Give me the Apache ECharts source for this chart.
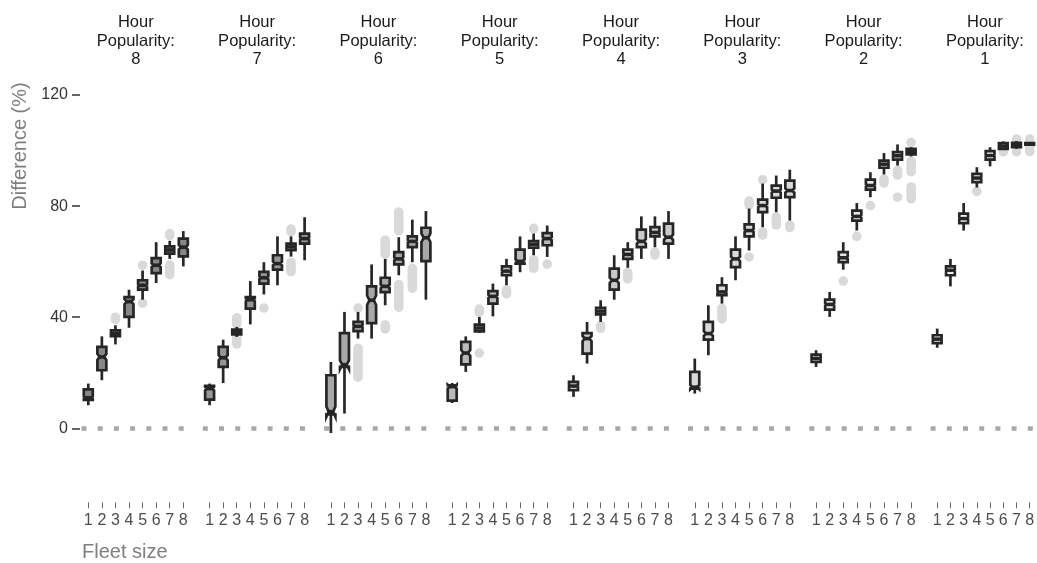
<!DOCTYPE html>
<html>
<head>
<meta charset="utf-8">
<script src="https://cdn.jsdelivr.net/npm/echarts@6/dist/echarts.min.js"></script>
<style>
  html, body { margin: 0; padding: 0; background: #ffffff; }
  #chart { width: 1037px; height: 563px; }
</style>
</head>
<body>
<div id="chart"></div>
<script>
// Fleet sizes on each panel's x axis, one panel per hour-popularity level
const fleetSizes = ['1', '2', '3', '4', '5', '6', '7', '8'];
const hourPopularity = ['8', '7', '6', '5', '4', '3', '2', '1'];
const yTickValues = [0, 40, 80, 120];

// Box statistics per fleet size: [lower whisker, Q1, median, Q3, upper whisker]
const boxesHP8 = [
  [8.3, 10.2, 11.0, 14.0, 16.1],
  [17.3, 20.9, 25.7, 29.3, 33.1],
  [30.2, 33.2, 34.2, 35.3, 37.1],
  [36.2, 40.1, 45.6, 47.2, 49.9],
  [46.3, 49.9, 51.5, 53.3, 56.8],
  [52.3, 55.9, 58.7, 61.3, 67.0],
  [61.0, 62.9, 64.2, 65.5, 67.5],
  [58.3, 61.9, 65.2, 68.3, 71.0]
];
const boxesHP7 = [
  [8.3, 10.3, 14.3, 15.3, 16.1],
  [16.3, 22.1, 25.4, 29.3, 31.9],
  [32.9, 33.8, 34.6, 35.5, 36.5],
  [37.4, 43.1, 46.3, 47.2, 53.0],
  [48.2, 52.1, 54.2, 56.3, 59.8],
  [51.5, 57.1, 59.3, 62.3, 69.1],
  [61.8, 64.1, 65.3, 66.5, 69.1],
  [60.5, 66.5, 68.3, 70.1, 76.0]
];
const boxesHP6 = [
  [-1.7, 5.0, 6.0, 19.1, 23.9],
  [5.3, 22.1, 22.9, 34.3, 41.9],
  [32.3, 35.0, 36.7, 38.3, 41.9],
  [32.3, 37.9, 46.1, 51.1, 59.0],
  [44.3, 49.0, 51.1, 54.2, 61.0],
  [55.1, 59.0, 61.0, 63.4, 68.8],
  [59.8, 65.2, 67.3, 69.1, 75.1],
  [46.3, 60.2, 68.6, 72.2, 78.2]
];
const boxesHP5 = [
  [9.1, 10.0, 15.0, 15.5, 16.3],
  [20.3, 23.0, 27.1, 31.1, 33.1],
  [34.3, 34.9, 36.1, 37.3, 40.1],
  [40.3, 44.9, 47.5, 49.4, 52.1],
  [51.5, 55.1, 56.6, 58.3, 61.0],
  [56.2, 59.3, 60.1, 64.3, 69.1],
  [62.3, 65.0, 66.2, 67.4, 70.1],
  [61.7, 65.9, 68.3, 70.3, 73.0]
];
const boxesHP4 = [
  [11.3, 13.7, 15.2, 16.7, 19.1],
  [23.3, 26.9, 32.3, 34.3, 38.3],
  [38.3, 41.0, 42.2, 43.4, 46.1],
  [46.3, 49.9, 53.3, 57.5, 62.3],
  [57.8, 61.0, 62.6, 64.3, 67.0],
  [61.0, 65.2, 67.3, 71.5, 76.3],
  [65.2, 69.1, 70.5, 72.4, 76.3],
  [61.0, 66.5, 68.8, 73.7, 78.2]
];
const boxesHP3 = [
  [12.5, 14.3, 14.8, 20.3, 25.1],
  [26.3, 31.9, 34.1, 38.3, 44.3],
  [44.9, 47.9, 49.1, 51.5, 54.4],
  [53.3, 58.0, 61.0, 64.3, 69.1],
  [64.0, 69.1, 71.2, 73.4, 79.1],
  [72.4, 77.8, 80.2, 82.3, 88.1],
  [77.8, 83.0, 85.4, 87.4, 91.0],
  [74.8, 83.2, 85.6, 89.2, 93.1]
];
const boxesHP2 = [
  [22.1, 23.9, 25.2, 26.5, 28.1],
  [40.1, 42.7, 44.6, 46.3, 49.1],
  [57.1, 59.8, 61.4, 63.4, 67.0],
  [71.2, 74.8, 76.3, 78.4, 81.1],
  [83.2, 85.9, 87.4, 89.5, 92.2],
  [91.4, 93.8, 95.1, 96.4, 99.1],
  [94.6, 96.7, 98.1, 99.4, 102.2],
  [97.9, 98.6, 99.6, 100.6, 101.2]
];
const boxesHP1 = [
  [29.0, 30.7, 32.1, 33.5, 35.9],
  [51.1, 55.1, 56.9, 58.3, 61.0],
  [71.2, 73.9, 75.5, 77.3, 81.1],
  [86.7, 88.6, 90.1, 91.6, 94.0],
  [94.3, 96.7, 98.2, 99.8, 101.2],
  [100.3, 100.6, 101.6, 102.7, 103.3],
  [100.6, 101.2, 102.0, 102.8, 103.4],
  [101.9, 102.1, 102.4, 102.7, 102.9]
];

// Outlying runs: [fleet size, lowest outlier, highest outlier] for each stacked run of points
const outliersHP8 = [
  [3, 39.2, 40.0], [5, 58.7, 58.7], [5, 45.1, 45.1],
  [7, 69.4, 70.1], [7, 55.3, 58.8]
];
const outliersHP7 = [
  [3, 37.5, 39.8], [3, 30.4, 32.5], [5, 43.3, 43.3],
  [7, 70.8, 71.7], [7, 56.4, 59.7]
];
const outliersHP6 = [
  [3, 43.3, 43.3], [3, 18.4, 28.8], [5, 62.7, 67.7], [5, 35.8, 37.2],
  [6, 71.1, 77.9], [6, 43.6, 51.8], [7, 50.4, 57.6]
];
const outliersHP5 = [
  [3, 41.8, 42.9], [3, 27.1, 27.1], [5, 48.4, 49.8],
  [7, 71.8, 72.0], [7, 57.6, 60.6], [8, 59.1, 59.1]
];
const outliersHP4 = [
  [3, 36.0, 37.0], [5, 53.8, 56.1], [7, 62.4, 63.5]
];
const outliersHP3 = [
  [3, 39.4, 43.2], [5, 80.4, 81.8], [5, 61.7, 61.7], [6, 89.5, 89.5],
  [6, 69.6, 70.7], [7, 73.2, 76.1], [8, 72.3, 73.1]
];
const outliersHP2 = [
  [3, 53.0, 53.0], [4, 69.1, 69.1], [5, 80.2, 80.2], [6, 88.3, 89.7],
  [7, 91.2, 92.9], [7, 83.2, 83.2], [8, 102.9, 102.9], [8, 92.4, 96.2], [8, 82.6, 86.9]
];
const outliersHP1 = [
  [4, 85.3, 85.3], [6, 99.5, 99.5], [7, 104.1, 104.1], [7, 99.6, 99.6], [8, 99.6, 104.1]
];

// Simulation runs behind each box (sets the notch half-width 1.58 * IQR / sqrt(n))
const runsPerBox = 150;

const panelBoxes = [boxesHP8, boxesHP7, boxesHP6, boxesHP5, boxesHP4, boxesHP3, boxesHP2, boxesHP1];
const panelOutliers = [outliersHP8, outliersHP7, outliersHP6, outliersHP5, outliersHP4, outliersHP3, outliersHP2, outliersHP1];
const panelFills = ['#878787', '#969696', '#a8a8a8', '#bababa', '#cacaca', '#d9d9d9', '#e8e8e8', '#f5f5f5'];

// Layout
const FONT = '"Liberation Sans", Arial, Helvetica, sans-serif';
const Y_MIN = -25, Y_MAX = 130;
const PX_PER_UNIT = 2.7775;
const ZERO_Y = 428.3;
const PANEL_LEFT0 = 81.5, PANEL_PITCH = 121.3, PANEL_W = 108.6;
const PANEL_TOP = ZERO_Y - Y_MAX * PX_PER_UNIT;
const PANEL_H = (Y_MAX - Y_MIN) * PX_PER_UNIT;
const INK = '#262626';
const STROKE_W = 2.7;

function boxRenderer(fill) {
  return function (params, api) {
    const cat = api.value(0);
    const cx = api.coord([cat, 0])[0];
    const band = api.size([1, 0])[0];
    const hw = band * 0.33;
    const ni = hw * 0.5;
    const py = v => api.coord([cat, v])[1];
    const lo = py(api.value(1)), q1 = py(api.value(2)), md = py(api.value(3));
    const q3 = py(api.value(4)), hi = py(api.value(5));
    const nLo = py(api.value(6)), nHi = py(api.value(7));
    const L = cx - hw, R = cx + hw;
    return {
      type: 'group',
      children: [
        { type: 'line', shape: { x1: cx, y1: hi, x2: cx, y2: q3 },
          style: { stroke: INK, lineWidth: STROKE_W } },
        { type: 'line', shape: { x1: cx, y1: q1, x2: cx, y2: lo },
          style: { stroke: INK, lineWidth: STROKE_W } },
        { type: 'polygon',
          shape: { points: [[L, q1], [L, nLo], [L + ni, md], [L, nHi], [L, q3],
                            [R, q3], [R, nHi], [R - ni, md], [R, nLo], [R, q1]] },
          style: { fill: fill, stroke: INK, lineWidth: STROKE_W, lineJoin: 'miter' } },
        { type: 'line', shape: { x1: L + ni, y1: md, x2: R - ni, y2: md },
          style: { stroke: INK, lineWidth: 3.6 } }
      ]
    };
  };
}

function outlierRenderer(params, api) {
  const cat = api.value(0);
  const cx = api.coord([cat, 0])[0];
  const r = 4.8;
  const yHi = api.coord([cat, api.value(2)])[1];
  const yLo = api.coord([cat, api.value(1)])[1];
  return {
    type: 'rect',
    shape: { x: cx - r, y: yHi - r, width: 2 * r, height: (yLo - yHi) + 2 * r, r: r },
    style: { fill: '#d9d9d9' }
  };
}

const grids = [{ left: 80, top: ZERO_Y - 120 * PX_PER_UNIT, width: 1, height: 120 * PX_PER_UNIT }];
const xAxes = [{ gridIndex: 0, type: 'value', show: false }];
const yAxes = [{
  gridIndex: 0, type: 'value', min: 0, max: 120, interval: 40,
  axisLine: { show: false },
  axisTick: { show: true, length: 8, lineStyle: { color: '#333333', width: 1.5 } },
  axisLabel: { margin: 12, fontSize: 16, color: '#333333', fontFamily: FONT },
  splitLine: { show: false }
}];
const series = [];
const graphics = [];

panelBoxes.forEach(function (boxes, p) {
  const gi = p + 1;
  grids.push({ left: PANEL_LEFT0 + p * PANEL_PITCH, top: PANEL_TOP, width: PANEL_W, height: PANEL_H });
  xAxes.push({
    gridIndex: gi, type: 'category', data: fleetSizes, position: 'bottom', offset: 4.6,
    axisLine: { show: false, onZero: false },
    axisTick: { show: true, alignWithLabel: true, interval: 0, length: 6,
                lineStyle: { color: '#666666', width: 1 } },
    axisLabel: { interval: 0, margin: 10, fontSize: 16, color: '#4d4d4d', fontFamily: FONT },
    splitLine: { show: false }
  });
  yAxes.push({ gridIndex: gi, type: 'value', min: Y_MIN, max: Y_MAX, show: false });

  const outlierData = panelOutliers[p].map(o => [fleetSizes.indexOf(String(o[0])), o[1], o[2]]);
  series.push({
    type: 'custom', xAxisIndex: gi, yAxisIndex: gi, z: 1, silent: true,
    renderItem: outlierRenderer,
    encode: { x: 0, y: [1, 2] },
    data: outlierData,
    markLine: {
      silent: true, symbol: ['none', 'none'], label: { show: false },
      lineStyle: { color: '#a8a8a8', width: 4.5, type: [5, 11.2], cap: 'butt' },
      data: [{ yAxis: 0 }]
    }
  });

  const boxData = boxes.map(function (b, i) {
    const notch = 1.58 * (b[3] - b[1]) / Math.sqrt(runsPerBox);
    return [i, b[0], b[1], b[2], b[3], b[4], b[2] - notch, b[2] + notch];
  });
  series.push({
    type: 'custom', xAxisIndex: gi, yAxisIndex: gi, z: 3, silent: true,
    renderItem: boxRenderer(panelFills[p]),
    encode: { x: 0, y: [1, 2, 3, 4, 5] },
    data: boxData
  });

  graphics.push({
    type: 'text',
    x: PANEL_LEFT0 + p * PANEL_PITCH + PANEL_W / 2,
    y: 13.5,
    style: {
      text: 'Hour\nPopularity:\n' + hourPopularity[p],
      textAlign: 'center', textVerticalAlign: 'top',
      fontSize: 16.5, fontFamily: FONT, lineHeight: 18.5, fill: '#1a1a1a'
    }
  });
});

graphics.push({
  type: 'text', x: 20, y: 146, rotation: Math.PI / 2,
  style: { text: 'Difference (%)', textAlign: 'center', textVerticalAlign: 'middle',
           fontSize: 20, fontFamily: FONT, fill: '#7f7f7f' }
});
graphics.push({
  type: 'text', x: 82, y: 552,
  style: { text: 'Fleet size', textAlign: 'left', textVerticalAlign: 'middle',
           fontSize: 20, fontFamily: FONT, fill: '#7f7f7f' }
});

const chart = echarts.init(document.getElementById('chart'), null, { renderer: 'canvas' });
chart.setOption({
  animation: false,
  backgroundColor: '#ffffff',
  grid: grids,
  xAxis: xAxes,
  yAxis: yAxes,
  series: series,
  graphic: graphics
});
</script>
</body>
</html>
